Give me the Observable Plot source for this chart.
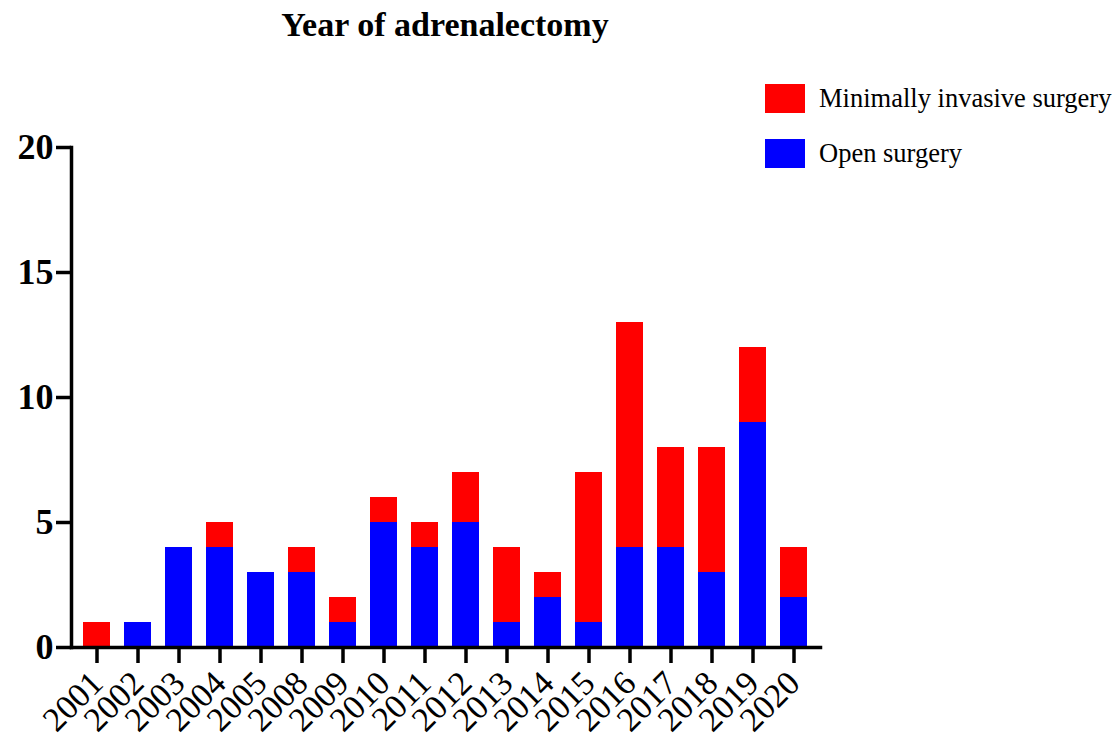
<!DOCTYPE html>
<html>
<head>
<meta charset="utf-8">
<script src="https://cdn.jsdelivr.net/npm/d3@7"></script>
<script src="https://cdn.jsdelivr.net/npm/@observablehq/plot@0.6"></script>
<style>
  body { margin: 0; background: #fff; }
  #wrap { position: relative; width: 1120px; height: 744px; font-family: "Liberation Serif", serif; overflow: hidden; }
  #title { position: absolute; left: 0; width: 890px; top: 6px; text-align: center; font-weight: bold; font-size: 34px; color: #000; }
  .leg { position: absolute; left: 765px; display: flex; align-items: center; font-size: 26.5px; color: #000; white-space: nowrap; }
  .sw { width: 40px; height: 29px; margin-right: 14px; flex: none; }
  #chart { position: absolute; left: 0; top: 0; }
</style>
</head>
<body>
<div id="wrap">
  <div id="chart"></div>
  <div id="title">Year of adrenalectomy</div>
  <div class="leg" style="top:83px"><div class="sw" style="background:#ff0000"></div>Minimally invasive surgery</div>
  <div class="leg" style="top:138px"><div class="sw" style="background:#0000ff"></div>Open surgery</div>
</div>
<script>
const years = ["2001","2002","2003","2004","2005","2008","2009","2010","2011","2012","2013","2014","2015","2016","2017","2018","2019","2020"];
const openSurgery = [0,1,4,4,3,3,1,5,4,5,1,2,1,4,4,3,9,2];
const minimallyInvasive = [1,0,0,1,0,1,1,1,1,2,3,1,6,9,4,5,3,2];
const seriesNames = ["Open surgery", "Minimally invasive surgery"];
const yTicks = [0,5,10,15,20];

const rows = [];
years.forEach((y, i) => {
  rows.push({year: y, type: seriesNames[0], value: openSurgery[i]});
  rows.push({year: y, type: seriesNames[1], value: minimallyInvasive[i]});
});

const chart = Plot.plot({
  width: 1120,
  height: 744,
  marginLeft: 71,
  marginRight: 300,
  marginTop: 147,
  marginBottom: 97,
  style: { fontFamily: "Liberation Serif, serif", color: "#000", background: "transparent", overflow: "visible" },
  x: { domain: years, paddingInner: 0.34, paddingOuter: 0.3, align: 0.5 },
  y: { domain: [0, 20] },
  color: { domain: seriesNames, range: ["#0000ff", "#ff0000"] },
  marks: [
    Plot.barY(rows, Plot.stackY({ x: "year", y: "value", fill: "type" })),
    Plot.frame({ anchor: "left", strokeWidth: 3.5, stroke: "#000" }),
    Plot.frame({ anchor: "bottom", strokeWidth: 3.5, stroke: "#000" }),
    Plot.axisY({ ticks: yTicks, tickSize: 15, tickPadding: 3, strokeWidth: 3.5, fontSize: 36, fontWeight: "bold", label: null }),
    Plot.axisX({ tickSize: 16, strokeWidth: 3.5, tickRotate: -45, tickPadding: 14, fontSize: 34, label: null })
  ]
});
document.getElementById("chart").appendChild(chart);
</script>
</body>
</html>
